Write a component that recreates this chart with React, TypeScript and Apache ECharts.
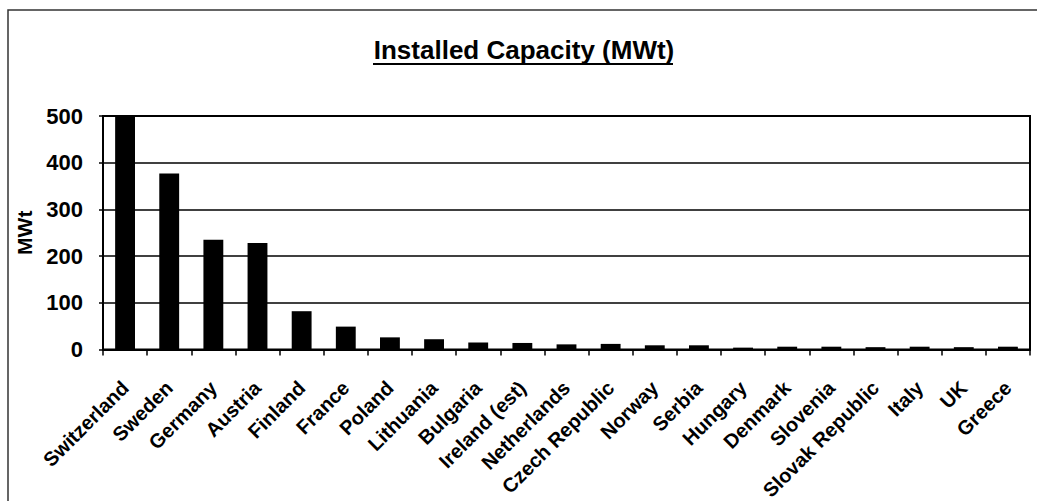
import React, { useEffect, useRef } from "react";
import * as echarts from "echarts";

const countries = [
  "Switzerland", "Sweden", "Germany", "Austria", "Finland", "France", "Poland",
  "Lithuania", "Bulgaria", "Ireland (est)", "Netherlands", "Czech Republic",
  "Norway", "Serbia", "Hungary", "Denmark", "Slovenia", "Slovak Republic",
  "Italy", "UK", "Greece",
];
const capacityMWt = [500, 377, 235, 228, 82, 49, 26, 22, 15, 14, 11, 12, 9, 9, 4, 6, 6, 5, 6, 5, 6];
const yTicks = [0, 100, 200, 300, 400, 500];

const FONT = "'Liberation Sans', Arial, sans-serif";

export default function App() {
  const ref = useRef<HTMLDivElement>(null);
  useEffect(() => {
    document.body.style.margin = "0";
    const chart = echarts.init(ref.current!, null, { renderer: "svg" });
    chart.setOption({
      animation: false,
      backgroundColor: "#ffffff",
      title: {
        text: "Installed Capacity (MWt)",
        left: 519,
        top: 32,
        textAlign: "center",
        textStyle: { fontFamily: FONT, fontWeight: "bold", fontSize: 26, color: "#000" },
      },
      graphic: [
        {
          type: "rect",
          shape: { x: 8, y: 10, width: 1040, height: 500 },
          style: { fill: "none", stroke: "#333", lineWidth: 1.5 },
          silent: true,
        },
        {
          type: "line",
          shape: { x1: 373, y1: 64, x2: 673, y2: 64 },
          style: { stroke: "#000", lineWidth: 2 },
          silent: true,
        },
      ],
      grid: {
        left: 103,
        right: 7,
        top: 116,
        bottom: 151.5,
        show: true,
        borderColor: "#000",
        borderWidth: 2,
        containLabel: false,
        outerBoundsMode: "none",
      },
      xAxis: {
        type: "category",
        data: countries,
        boundaryGap: true,
        axisLine: { lineStyle: { color: "#000", width: 2 } },
        axisTick: { show: true, alignWithLabel: false, length: 6, inside: false, lineStyle: { color: "#000", width: 1.5 } },
        axisLabel: {
          interval: 0,
          rotate: 45,
          margin: 35,
          hideOverlap: false,
          fontFamily: FONT,
          fontWeight: "bold",
          fontSize: 20,
          color: "#000",
        },
      },
      yAxis: {
        type: "value",
        min: yTicks[0],
        max: yTicks[yTicks.length - 1],
        interval: 100,
        name: "MWt",
        nameLocation: "middle",
        nameGap: 68,
        nameRotate: 90,
        nameTextStyle: { fontFamily: FONT, fontWeight: "bold", fontSize: 21, color: "#000" },
        axisLine: { show: true, lineStyle: { color: "#000", width: 2 } },
        axisTick: { show: true, length: 4, lineStyle: { color: "#000", width: 1.5 } },
        axisLabel: {
          margin: 20,
          fontFamily: FONT,
          fontWeight: "bold",
          fontSize: 22,
          color: "#000",
        },
        splitLine: { show: true, lineStyle: { color: "#000", width: 1.5 } },
      },
      series: [
        {
          type: "bar",
          data: capacityMWt,
          barWidth: "45%",
          itemStyle: { color: "#000" },
        },
      ],
    });
    return () => chart.dispose();
  }, []);
  return <div ref={ref} style={{ width: 1037, height: 501 }} />;
}
